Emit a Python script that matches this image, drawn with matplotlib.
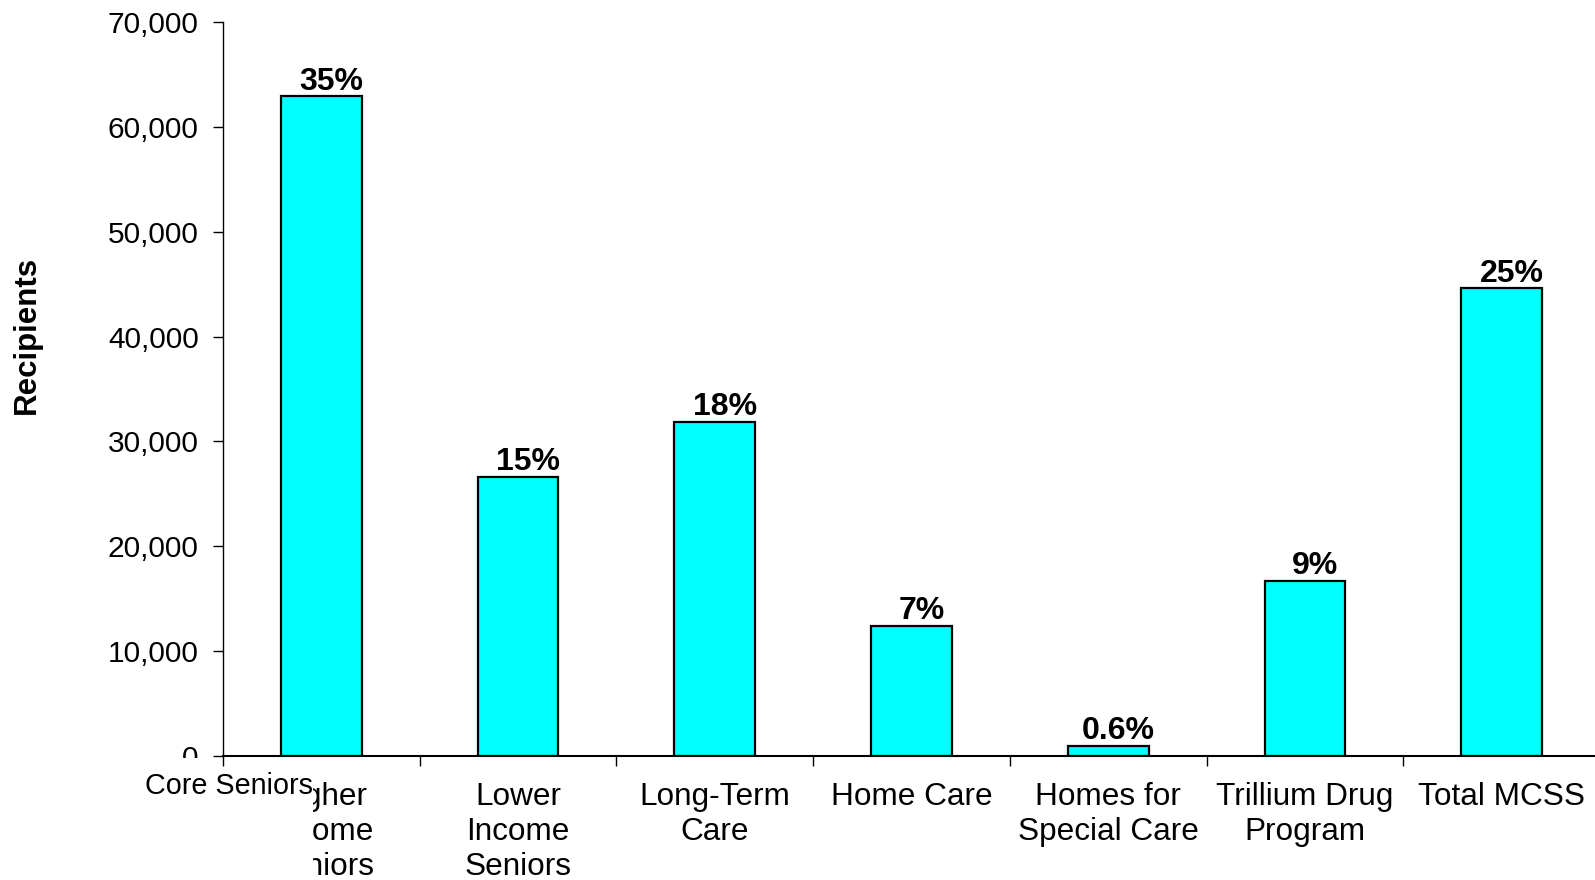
import matplotlib
matplotlib.use("Agg")
import matplotlib.pyplot as plt
from matplotlib.patches import Rectangle
from matplotlib.ticker import FuncFormatter

plt.rcParams["font.family"] = ["Liberation Sans", "DejaVu Sans"]

categories = ["Higher\nIncome\nSeniors", "Lower\nIncome\nSeniors", "Long-Term\nCare",
              "Home Care", "Homes for\nSpecial Care", "Trillium Drug\nProgram", "Total MCSS"]
recipients = [62900, 26600, 31900, 12400, 1000, 16700, 44600]
shares = ["35%", "15%", "18%", "7%", "0.6%", "9%", "25%"]
y_ticks = [0, 10000, 20000, 30000, 40000, 50000, 60000, 70000]

fig = plt.figure(figsize=(15.95, 8.8), dpi=100)
ax = fig.add_axes([223 / 1595, 124 / 880, 1377 / 1595, 734 / 880], zorder=0)

x = list(range(len(categories)))
ax.bar(x, recipients, width=0.41, color="#00ffff", edgecolor="black", linewidth=1.6, zorder=2)

for xi, v, s in zip(x, recipients, shares):
    ax.text(xi + 0.05, v + 650, s, ha="center", va="baseline",
            fontsize=23, fontweight="bold", color="black")

ax.set_xlim(-0.5, len(categories) - 0.5)
ax.set_ylim(0, 70000)
ax.set_yticks(y_ticks)
ax.yaxis.set_major_formatter(FuncFormatter(lambda v, p: f"{int(v):,}"))
ax.tick_params(axis="y", direction="out", length=7.5, width=1, pad=10, labelsize=21.5)

# category labels sit on minor ticks, separators are drawn by the overlay axes
ax.set_xticks([i - 0.5 for i in range(len(categories) + 1)])
ax.set_xticklabels([])
ax.set_xticks(x, minor=True)
ax.set_xticklabels(categories, minor=True, fontsize=22.7, linespacing=1.23)
ax.tick_params(axis="x", which="major", length=0)
ax.tick_params(axis="x", which="minor", length=0, pad=18.5)

ax.spines["top"].set_visible(False)
ax.spines["right"].set_visible(False)
ax.spines["left"].set_linewidth(1)
ax.spines["bottom"].set_linewidth(1.5)

ax.set_ylabel("Recipients", fontsize=22.5, fontweight="bold")
ax.yaxis.set_label_coords(-0.1318, 0.573)

# white label box over the first category
fig.patches.append(Rectangle((130 / 1595, 0), (313 - 130) / 1595, (880 - 757.5) / 880,
                             transform=fig.transFigure, facecolor="white",
                             edgecolor="none", zorder=1))

# separator ticks drawn above the label box
ax2 = fig.add_axes(ax.get_position(), zorder=2)
ax2.set_xlim(ax.get_xlim())
ax2.set_ylim(ax.get_ylim())
ax2.patch.set_visible(False)
for sp in ax2.spines.values():
    sp.set_visible(False)
ax2.set_xticks([i - 0.5 for i in range(len(categories) + 1)])
ax2.set_xticklabels([])
ax2.set_yticks([])
ax2.tick_params(axis="x", direction="out", length=7, width=1)

fig.text(313 / 1595, (880 - 794) / 880, "Core Seniors", ha="right", va="baseline",
         fontsize=20.7, color="black", zorder=3)

fig.savefig("out.png", dpi=100, facecolor="white")
